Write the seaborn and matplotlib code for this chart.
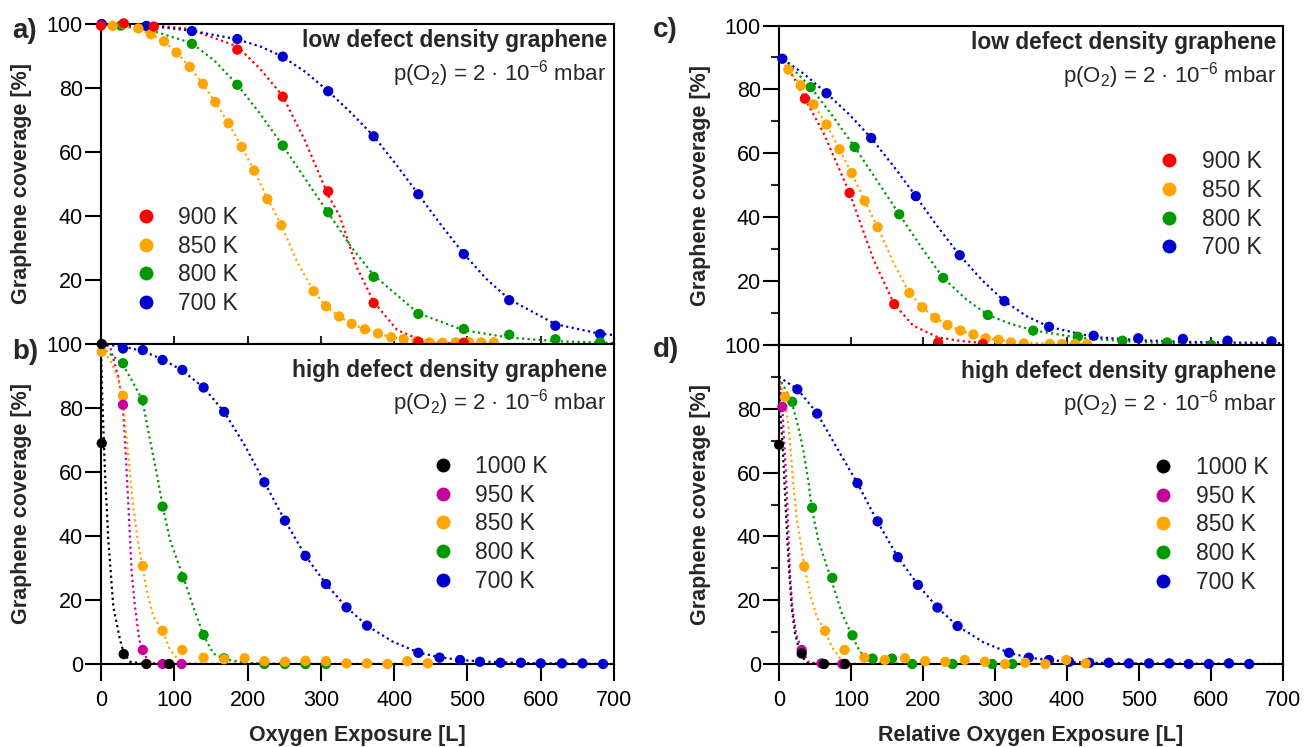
import matplotlib
matplotlib.use("Agg")
import matplotlib.pyplot as plt
from matplotlib.lines import Line2D
from matplotlib.ticker import MultipleLocator
import seaborn as sns

# ---------------- panel a: low defect density, absolute exposure ----------------
a_900_x = [0, 31, 72, 186, 248, 310, 372, 433, 495]
a_900_y = [99.5, 100.2, 99.2, 92.0, 77.3, 47.7, 12.8, 0.7, 0.4]
a_850_x = [16, 31, 51, 68, 86, 103, 121, 139, 156, 174, 192, 209, 227, 246, 290, 307,
           325, 342, 360, 378, 396, 413, 431, 448, 466, 484, 502, 519, 536]
a_850_y = [99.4, 100.0, 98.6, 96.8, 94.6, 91.1, 86.6, 81.3, 75.6, 69.0, 61.6, 54.2, 45.3,
           37.1, 16.5, 11.8, 8.6, 6.3, 4.6, 3.3, 2.1, 1.5, 0.9, 0.5, 0.4, 0.5, 0.6, 0.5, 0.5]
a_800_x = [27, 124, 186, 248, 310, 372, 433, 495, 557, 620, 681]
a_800_y = [99.5, 93.8, 81.0, 62.0, 41.2, 21.0, 9.4, 4.7, 2.9, 1.5, 0.5]
a_700_x = [1, 62, 124, 186, 248, 310, 372, 433, 495, 557, 620, 681]
a_700_y = [100, 99.4, 97.8, 95.3, 89.8, 79.0, 64.9, 46.8, 28.1, 13.7, 5.7, 3.1]

a_900_fit_x = [0, 60, 120, 186, 217, 248, 278, 310, 326, 349, 372, 404, 433, 462, 495]
a_900_fit_y = [100, 99.8, 98.5, 93, 86, 77.5, 63.7, 46.5, 39.8, 24, 13.2, 4.4, 1.5, 0.4, 0]
a_850_fit_x = [0, 16, 31, 51, 68, 86, 103, 121, 139, 156, 174, 192, 209, 227, 246, 268,
               290, 307, 325, 342, 360, 378, 396, 413, 431, 466, 536]
a_850_fit_y = [100, 99.7, 99.2, 98.3, 96.8, 94.6, 91.1, 86.6, 81.3, 75.6, 69.0, 61.6, 54.2,
               45.6, 37.1, 25.5, 16.5, 11.8, 8.6, 6.3, 4.6, 3.3, 2.1, 1.5, 0.9, 0.3, 0]
a_800_fit_x = [0, 60, 124, 155, 186, 217, 248, 279, 310, 341, 372, 433, 495, 557, 620, 700]
a_800_fit_y = [100, 98.6, 94.0, 88.5, 81.0, 72.0, 62.0, 51.5, 41.0, 30.5, 21.5, 9.6, 4.3,
               2.0, 0.9, 0.3]
a_700_fit_x = [0, 62, 124, 186, 217, 248, 279, 310, 341, 372, 403, 433, 464, 495, 526,
               557, 620, 681, 700]
a_700_fit_y = [100, 99.5, 97.9, 95.2, 93.0, 89.8, 85.0, 79.0, 72.3, 65.0, 56.0, 46.8, 37.2,
               28.2, 20.3, 14.0, 6.2, 3.2, 2.8]

# ---------------- panel b: high defect density, absolute exposure ----------------
b_1000_x = [1, 1, 31, 62, 93]
b_1000_y = [100, 69, 3.1, 0, 0]
b_950_x = [30, 57, 84, 110]
b_950_y = [81, 4.4, 0, 0]
b_850_x = [1, 30, 57, 84, 111, 140, 168, 196, 223, 251, 279, 307, 335, 363, 391, 418, 446]
b_850_y = [97.6, 83.8, 30.6, 10.4, 4.4, 2.0, 1.5, 1.8, 0.9, 0.7, 1.0, 0.9, 0.2, 0.2, 0.0,
           0.9, 0.2]
b_800_x = [30, 57, 84, 111, 140, 168, 223, 251, 279, 307]
b_800_y = [94, 82.5, 49.2, 27.1, 9.1, 1.8, 0, 0, 0, 0]
b_700_x = [30, 57, 84, 111, 140, 168, 223, 251, 279, 307, 335, 363, 433, 462, 490, 517,
           545, 573, 600, 629, 657, 685]
b_700_y = [98.6, 98.1, 95.0, 91.9, 86.4, 78.8, 56.8, 44.8, 33.8, 25.0, 17.7, 12.0, 3.5,
           2.0, 1.25, 0.7, 0.4, 0.4, 0.2, 0.2, 0.2, 0.0]

b_1000_fit_x = [0, 1.8, 5.5, 10, 16.8, 26, 31, 39.6, 60, 100]
b_1000_fit_y = [97, 82.5, 59.6, 38.7, 17.9, 7.5, 3.5, 0.7, 0, 0]
b_950_fit_x = [0, 12.3, 23.6, 29.6, 32.7, 35.1, 38.6, 41.9, 46.4, 52.3, 56.4, 64.5, 77, 110]
b_950_fit_y = [100, 99.2, 89.8, 80.9, 70, 59.6, 44, 28.3, 17.9, 7.5, 4.4, 0.7, 0, 0]
b_850_fit_x = [0, 3.2, 14.6, 23.6, 29.1, 34, 39, 44, 50, 56.4, 62.4, 71.4, 84.2, 94.2,
               107.8, 121, 450]
b_850_fit_y = [99, 98.1, 94, 88.75, 83.75, 73, 61, 49, 39, 30.6, 23.1, 14.8, 10.4, 4.4,
               0.7, 0.2, 0]
b_800_fit_x = [0, 5.5, 28.7, 41.8, 56.4, 66.9, 76, 84.2, 94.2, 112.3, 125.9, 139.6, 153.2,
               168, 200, 250, 450]
b_800_fit_y = [99, 98.1, 94, 88.75, 82.5, 70, 59.6, 49.2, 38.75, 27.1, 17.9, 9.1, 3.3, 1.5,
               0.3, 0, 0]
b_700_fit_x = [0, 12.3, 30, 57, 84, 111, 140, 168, 196, 223, 251, 279, 307, 335, 363, 398,
               433, 462, 490, 517, 573, 700]
b_700_fit_y = [99.8, 99.7, 99.2, 97.8, 95.2, 91.7, 86.4, 78.8, 68.4, 56.8, 44.8, 33.8,
               25.0, 17.7, 12.0, 7.0, 3.6, 2.1, 1.3, 0.8, 0.3, 0]

# ---------------- panel c: low defect density, relative exposure ----------------
c_900_x = [36, 98, 160, 221, 283]
c_900_y = [77.1, 47.6, 12.8, 0.8, 0.3]
c_850_x = [13, 30, 48, 66, 84, 101, 119, 137, 181, 199, 217, 234, 252, 270, 287, 305,
           322, 340, 376, 393, 411, 428]
c_850_y = [86.2, 81.25, 75.3, 69.0, 61.25, 53.8, 45.1, 36.9, 16.3, 11.8, 8.5, 6.25, 4.5,
           3.3, 2.1, 1.6, 0.8, 0.5, 0.3, 0.3, 0.3, 0.3]
c_800_x = [44, 105, 167, 228, 290, 353, 415, 477, 539, 600]
c_800_y = [80.7, 62.0, 40.9, 21.0, 9.4, 4.5, 2.6, 1.35, 0.8, 0.0]
c_700_x = [4.6, 66, 128, 190, 251, 313, 375, 437, 499, 561, 623, 684]
c_700_y = [89.6, 78.8, 64.8, 46.6, 28.1, 13.75, 5.7, 2.9, 2.1, 1.9, 1.35, 1.15]

c_900_fit_x = [0, 1.4, 19.9, 36, 61.6, 98, 131, 160, 186.6, 221, 251, 283]
c_900_fit_y = [90.5, 90, 84, 77.1, 66.5, 47.6, 26.9, 12.8, 6, 2.4, 1.3, 0.6]
c_850_fit_x = [0, 13, 30, 48, 66, 84, 101, 119, 137, 159, 181, 199, 217, 234, 252, 270,
               287, 305, 340, 428]
c_850_fit_y = [90, 86.2, 81.25, 75.3, 69, 61.25, 53.8, 45.1, 36.9, 25.8, 16.3, 11.8, 8.5,
               6.25, 4.5, 3.3, 2.1, 1.6, 0.7, 0.2]
c_800_fit_x = [0, 20, 44, 75, 105, 136, 167, 198, 228, 260, 290, 322, 353, 415, 477, 539,
               600, 700]
c_800_fit_y = [90, 86.3, 80.7, 71.5, 62, 51.5, 40.9, 30.5, 21, 14.3, 9.4, 6.6, 4.6, 2.3,
               1.2, 0.6, 0.3, 0.1]
c_700_fit_x = [0, 4.6, 35, 66, 97, 128, 159, 190, 220, 251, 282, 313, 344, 375, 437, 499,
               561, 623, 700]
c_700_fit_y = [90.5, 89.6, 84.8, 78.8, 72.3, 64.8, 56, 46.6, 37.1, 28.1, 20.3, 13.75, 9,
               5.7, 2.5, 1.5, 1.0, 0.8, 0.6]

# ---------------- panel d: high defect density, relative exposure ----------------
d_1000_x = [0, 31.5, 62.5, 91.7]
d_1000_y = [68.75, 3.3, 0, 0]
d_950_x = [4.6, 31.5, 59, 88]
d_950_y = [80.6, 4.4, 0.2, 0]
d_850_x = [8.3, 35, 64, 91, 118.5, 147, 175, 203, 231, 258, 286, 314, 342, 370, 399, 426]
d_850_y = [83.75, 30.6, 10.4, 4.4, 2.0, 1.25, 1.8, 0.9, 0.7, 1.25, 0.7, 0, 0.4, 0, 1.25,
           0.2]
d_800_x = [18.5, 46, 74, 102, 130, 157, 185, 241, 296, 324]
d_800_y = [82.2, 49, 27, 9, 1.7, 1.7, 0, 0, 0, 0]
d_700_x = [25.5, 53, 109, 137, 165, 193, 220, 248, 319.5, 347, 375, 403, 431, 458, 486,
           514, 542, 569, 597, 625, 653]
d_700_y = [86.1, 78.5, 56.7, 44.7, 33.5, 24.8, 17.7, 11.9, 3.5, 2.0, 1.25, 0.7, 0.4, 0.4,
           0.2, 0.2, 0.2, 0, 0, 0.2, 0]

d_1000_fit_x = [0, 0.5, 1.4, 4.6, 7, 9.3, 11.6, 14.4, 17.6, 22.2, 29.2, 38.5, 56, 100]
d_1000_fit_y = [90, 88, 80.4, 70, 59.6, 49.2, 38.75, 28.3, 17.9, 9.6, 3.3, 0.4, 0, 0]
d_950_fit_x = [0, 4.6, 7, 9.7, 11.6, 13.4, 15.3, 18.5, 23.6, 31.5, 40.7, 56, 100]
d_950_fit_y = [90.5, 80.6, 70, 59.6, 49.2, 38.75, 28.3, 17.9, 9.6, 4.4, 0.7, 0, 0]
d_850_fit_x = [0, 7, 13, 16.2, 19.9, 24.5, 35.2, 43, 52.3, 64, 73.2, 84.7, 98.6, 130, 450]
d_850_fit_y = [89.8, 83.75, 75.2, 66.9, 56.5, 46, 30.6, 22.1, 14.8, 10.4, 5.4, 1.8, 0.2,
               0, 0]
d_800_fit_x = [0, 1.4, 17.6, 26.9, 33.8, 40.7, 45.4, 54.6, 61.6, 73.2, 87.1, 101, 112.5,
               126.4, 145, 172, 450]
d_800_fit_y = [90, 89.3, 82.3, 74.2, 66.9, 57.5, 49, 38.75, 34.0, 26.0, 16.0, 9.1, 3.85,
               1.25, 0.4, 0, 0]
d_700_fit_x = [0, 8.3, 26, 40.7, 53.2, 80, 108.8, 136.6, 164.3, 193, 220, 248, 284,
               319.5, 347, 375, 403, 431, 486, 700]
d_700_fit_y = [90.1, 88.75, 86.1, 82, 78.5, 67.9, 56.7, 44.7, 33.75, 24.8, 17.7, 11.9,
               6.8, 3.5, 2.0, 1.25, 0.7, 0.4, 0.2, 0]

low_labels = ["900 K", "850 K", "800 K", "700 K"]
high_labels = ["1000 K", "950 K", "850 K", "800 K", "700 K"]
colors = {"1000 K": "#000000", "950 K": "#c8009b", "900 K": "#ff0000",
          "850 K": "#ffa500", "800 K": "#009a00", "700 K": "#0000cd"}

sns.set_theme(style="ticks")
plt.rcParams["font.family"] = ["Liberation Sans", "DejaVu Sans"]
plt.rcParams["mathtext.fontset"] = "custom"
plt.rcParams["mathtext.rm"] = "Liberation Sans"
plt.rcParams["mathtext.it"] = "Liberation Sans:italic"
plt.rcParams["mathtext.bf"] = "Liberation Sans:bold"

W, H = 1304, 747
fig = plt.figure(figsize=(W / 100, H / 100), dpi=100)


def px_axes(left, top, right, bottom):
    return fig.add_axes([left / W, 1 - bottom / H, (right - left) / W, (bottom - top) / H])


ax_a = px_axes(101, 24, 614, 344)
ax_b = px_axes(101, 344, 614, 664)
ax_c = px_axes(779, 25.5, 1283, 345)
ax_d = px_axes(779, 345, 1283, 664)

panels = [
    (ax_a, low_labels,
     [(a_900_x, a_900_y, a_900_fit_x, a_900_fit_y), (a_850_x, a_850_y, a_850_fit_x, a_850_fit_y),
      (a_800_x, a_800_y, a_800_fit_x, a_800_fit_y), (a_700_x, a_700_y, a_700_fit_x, a_700_fit_y)],
     "low defect density graphene", True, False, (0.066, 0.261)),
    (ax_b, high_labels,
     [(b_1000_x, b_1000_y, b_1000_fit_x, b_1000_fit_y), (b_950_x, b_950_y, b_950_fit_x, b_950_fit_y),
      (b_850_x, b_850_y, b_850_fit_x, b_850_fit_y), (b_800_x, b_800_y, b_800_fit_x, b_800_fit_y),
      (b_700_x, b_700_y, b_700_fit_x, b_700_fit_y)],
     "high defect density graphene", False, False, (0.645, 0.4375)),
    (ax_c, low_labels,
     [(c_900_x, c_900_y, c_900_fit_x, c_900_fit_y), (c_850_x, c_850_y, c_850_fit_x, c_850_fit_y),
      (c_800_x, c_800_y, c_800_fit_x, c_800_fit_y), (c_700_x, c_700_y, c_700_fit_x, c_700_fit_y)],
     "low defect density graphene", True, True, (0.752, 0.439)),
    (ax_d, high_labels,
     [(d_1000_x, d_1000_y, d_1000_fit_x, d_1000_fit_y), (d_950_x, d_950_y, d_950_fit_x, d_950_fit_y),
      (d_850_x, d_850_y, d_850_fit_x, d_850_fit_y), (d_800_x, d_800_y, d_800_fit_x, d_800_fit_y),
      (d_700_x, d_700_y, d_700_fit_x, d_700_fit_y)],
     "high defect density graphene", False, True, (0.740, 0.436)),
]

for ax, labels, series, title, is_top, is_right, leg_pos in panels:
    # fit curves first, measured points on top
    for lab, (x, y, fx, fy) in zip(labels, series):
        sns.lineplot(x=fx, y=fy, ax=ax, color=colors[lab], sort=False, estimator=None,
                     linewidth=1.6, linestyle=(0, (1.0, 1.5)), zorder=2, legend=False)
    for lab, (x, y, fx, fy) in reversed(list(zip(labels, series))):
        sns.scatterplot(x=x, y=y, ax=ax, color=colors[lab], s=55, edgecolor="none",
                        clip_on=False, zorder=4, legend=False)

    ax.set_xlim(0, 700)
    ax.set_ylim(0, 100)
    ax.set_xticks(range(0, 701, 100))
    ax.set_yticks(range(20 if is_top else 0, 101, 20))
    for sp in ax.spines.values():
        sp.set_visible(True)
        sp.set_linewidth(1.5)
        sp.set_color("black")
    ax.tick_params(axis="y", which="major", direction="out", length=11.5, width=1.5,
                   pad=1.5, labelsize=15.5, colors="black")
    if is_right:
        ax.yaxis.set_minor_locator(MultipleLocator(10))
        ax.tick_params(axis="y", which="minor", direction="out", length=6, width=1.5)
    if is_top:
        ax.tick_params(axis="x", direction="inout", length=11.5, width=1.5, labelbottom=False)
    else:
        ax.tick_params(axis="x", direction="out", length=12, width=1.5, pad=7,
                       labelsize=15.5, colors="black")
        ax.set_xlabel("Relative Oxygen Exposure [L]" if is_right else "Oxygen Exposure [L]",
                      fontsize=15.5, fontweight="bold")
        ax.xaxis.set_label_coords(0.5, -0.19)
    ax.set_ylabel("Graphene coverage [%]", fontsize=15.5, fontweight="bold")
    ax.yaxis.set_label_coords(-0.134, 0.5)

    if is_top:
        ty1, ty2 = 0.927, 0.822
    else:
        ty1, ty2 = 0.897, 0.794
    ax.text(0.986, ty1, title, transform=ax.transAxes, ha="right", va="baseline",
            fontsize=16.4, fontweight="bold")
    ax.text(0.986, ty2, "p(O$_2$) = 2 · 10$^{-6}$ mbar", transform=ax.transAxes,
            ha="right", va="baseline", fontsize=16)

    handles = [Line2D([], [], marker="o", linestyle="none", markersize=10,
                      markerfacecolor=colors[lab], markeredgewidth=0) for lab in labels]
    ax.legend(handles, labels, loc="center left", bbox_to_anchor=leg_pos, frameon=False,
              fontsize=16.5, handlelength=1.0, handletextpad=0.9, labelspacing=0.25,
              borderpad=0, borderaxespad=0)

for txt, xp, yp in [("a)", 12, 38), ("b)", 12, 359), ("c)", 653, 37), ("d)", 653, 357)]:
    fig.text(xp / W, 1 - yp / H, txt, fontsize=20, fontweight="bold", ha="left", va="baseline")

fig.savefig("out.png", dpi=100)
